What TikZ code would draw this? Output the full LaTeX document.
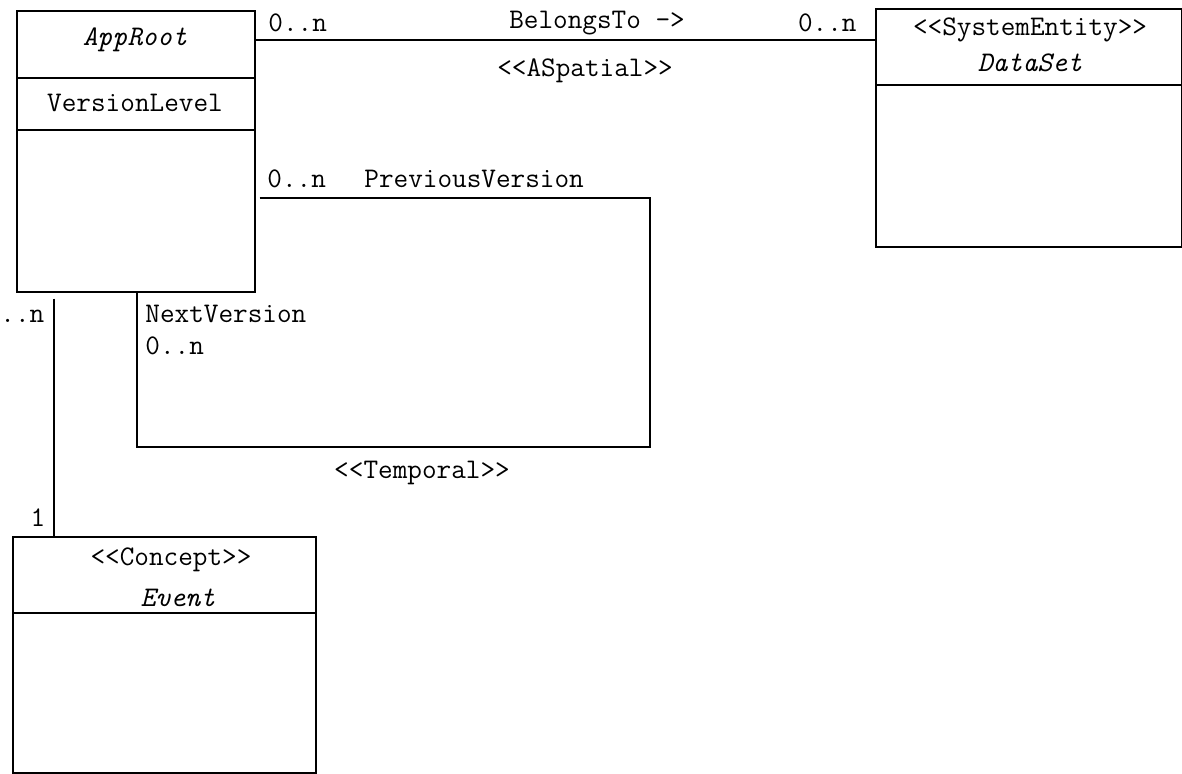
\documentclass[tikz,border=0pt]{standalone}
\usetikzlibrary{calc}
\tikzset{
  uml/.style={draw, line width=0.8pt, rectangle, anchor=north west, inner sep=0pt},
  txt/.style={font=\ttfamily\fontsize{14.2}{16}\selectfont, inner sep=0pt},
  itxt/.style={txt, font=\ttfamily\itshape\fontsize{14.2}{16}\selectfont},
  link/.style={line width=0.8pt}
}
\begin{document}
\begin{tikzpicture}[x=0.5pt, y=-0.5pt]
\useasboundingbox (0,0) rectangle (1182,774);
\clip (0,0) rectangle (1182,774);

% class boxes
\node[uml, minimum width=119pt, minimum height=140.5pt] (approot) at (16,10) {};
\node[uml, minimum width=153pt, minimum height=119pt] (dataset) at (875,8) {};
\node[uml, minimum width=151.5pt, minimum height=118pt] (event) at (12,536) {};

% compartment dividers
\draw[link] (approot.west |- 0,78) -- (approot.east |- 0,78);
\draw[link] (approot.west |- 0,130) -- (approot.east |- 0,130);
\draw[link] (dataset.west |- 0,85) -- (dataset.east |- 0,85);
\draw[link] (event.west |- 0,613) -- (event.east |- 0,613);

% class names and stereotypes
\node[itxt] (approotname) at (135,40) {AppRoot};
\node[txt] (versionlevel) at (135,103) {VersionLevel};
\node[txt] (dsstereo) at (1030,30) {<{}<SystemEntity>{}>};
\node[itxt] (dsname) at (1030,63) {DataSet};
\node[txt] (evstereo) at (171,560) {<{}<Concept>{}>};
\node[itxt] (evname) at (178,598) {Event};

% BelongsTo association
\draw[link] ($(approot.north east)+(0,30)$) coordinate (b1) -- (b1 -| dataset.west);
\node[txt, anchor=west] (bm1) at (268,23) {0..n};
\node[txt] (belongs) at (597,23) {BelongsTo ->};
\node[txt, anchor=east] (bm2) at (857,23) {0..n};
\node[txt] (aspatial) at (585,71) {<{}<ASpatial>{}>};

% version self-association
\coordinate (l1) at (650,198);
\coordinate (l2) at (137,447);
\draw[link] ($(approot.north east)+(4,188)$) -- (l1) |- (l2) -- (l2 |- approot.south);
\node[txt, anchor=west] (pm) at (267,179) {0..n};
\node[txt, anchor=west] (prev) at (364,179) {PreviousVersion};
\node[txt, anchor=west] (next) at (145,314) {NextVersion};
\node[txt, anchor=west] (nm) at (145,346) {0..n};
\node[txt] (temporal) at (422,473) {<{}<Temporal>{}>};

% Event association
\draw[link] ($(approot.south west)+(38,6)$) coordinate (e1) -- (e1 |- event.north);
\node[txt, anchor=west] (em1) at (0,316) {..n};
\node[txt] (em2) at (38,518) {1};
\end{tikzpicture}
\end{document}
